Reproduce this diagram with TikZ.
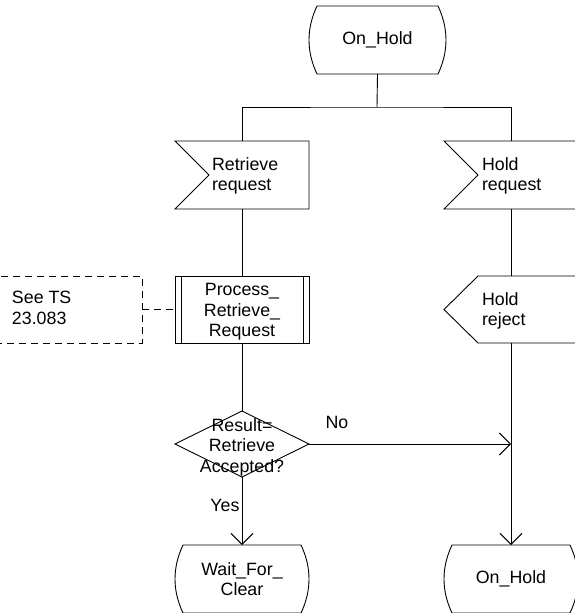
\documentclass[tikz,border=0pt]{standalone}
\usepackage{fontspec}
\setmainfont{Liberation Sans}
\usetikzlibrary{arrows.meta,shapes.geometric}
\tikzset{
  frame/.style={draw=none, inner sep=0pt, outer sep=0pt, rectangle},
  shp/.style={draw=black, line width=0.9pt},
  conn/.style={draw=black, line width=0.9pt},
  arr/.style={conn, -{Straight Barb[length=11pt,width=22pt,line width=0.9pt]}},
  dashconn/.style={conn, dash pattern=on 7pt off 5pt},
  txt/.style={inner sep=0pt, outer sep=0pt, font=\fontsize{17.8}{20.5}\selectfont},
}
\newcommand{\sdlstate}[1]{%
  \draw[shp] ([xshift=8pt]#1.north west) -- ([xshift=-8pt]#1.north east)
    .. controls ([xshift=2.67pt,yshift=-22.67pt]#1.north east) and ([xshift=2.67pt,yshift=22.67pt]#1.south east) .. ([xshift=-8pt]#1.south east)
    -- ([xshift=8pt]#1.south west)
    .. controls ([xshift=-2.67pt,yshift=22.67pt]#1.south west) and ([xshift=-2.67pt,yshift=-22.67pt]#1.north west) .. cycle;}
\begin{document}
\begin{tikzpicture}[x=1pt,y=-1pt]
\useasboundingbox (0,0) rectangle (575,613);
\clip (0,0) rectangle (575,613);

% nodes (frames)
\node[frame, txt, minimum width=137pt, minimum height=68pt] (s1) at (377.5,40) {On\_Hold};
\node[frame, minimum width=134pt, minimum height=68pt] (ri) at (242,175) {};
\node[frame, minimum width=134pt, minimum height=68pt] (hr) at (511,175) {};
\node[frame, minimum width=134pt, minimum height=67pt] (pr) at (242,309.5) {};
\node[frame, minimum width=200pt, minimum height=67pt] (see) at (42,309.5) {};
\node[frame, minimum width=134pt, minimum height=67pt] (hj) at (511,309.5) {};
\node[frame, minimum width=134pt, minimum height=66pt] (dec) at (242,444) {};
\node[frame, txt, align=center, minimum width=134pt, minimum height=68pt] (wfc) at (242,579) {Wait\_For\_\\Clear};
\node[frame, txt, minimum width=134pt, minimum height=68pt] (s2) at (511,579) {On\_Hold};

% shapes
\sdlstate{s1}
\sdlstate{wfc}
\sdlstate{s2}
\draw[shp] (ri.north west) -- (ri.north east) -- (ri.south east) -- (ri.south west) -- ([xshift=34pt]ri.west) -- cycle;
\draw[shp] (hr.north west) -- (hr.north east) -- (hr.south east) -- (hr.south west) -- ([xshift=34pt]hr.west) -- cycle;
\draw[shp] (pr.north west) rectangle (pr.south east);
\draw[shp] ([xshift=6pt]pr.north west) -- ([xshift=6pt]pr.south west);
\draw[shp] ([xshift=-6pt]pr.north east) -- ([xshift=-6pt]pr.south east);
\draw[shp, dash pattern=on 7pt off 5pt] (see.north west) rectangle (see.south east);
\draw[shp] (hj.west) -- ([xshift=34pt]hj.north west) -- (hj.north east) -- (hj.south east) -- ([xshift=34pt]hj.south west) -- cycle;
\draw[shp] (dec.west) -- (dec.north) -- (dec.east) -- (dec.south) -- cycle;

% texts
\node[txt, anchor=west, align=left] (riT) at (212,176) {Retrieve\\request};
\node[txt, anchor=west, align=left] (hrT) at (482,176) {Hold\\request};
\node[txt, align=center] (prT) at (242,312) {Process\_\\Retrieve\_\\Request};
\node[txt, anchor=west, align=left] (seeT) at (12,308) {See TS\\23.083};
\node[txt, anchor=west, align=left] (hjT) at (482,311) {Hold\\reject};
\node[txt, align=center] (decT) at (242,447) {Result=\\Retrieve\\Accepted?};
\node[txt] (noT) at (337,422) {No};
\node[txt] (yesT) at (225,505) {Yes};

% connectors
\coordinate (j) at (377,107);
\draw[conn] (s1.south) -- (j);
\draw[conn] (ri.north) |- (j) -| (hr.north);
\draw[conn] (ri.south) -- (pr.north);
\draw[conn] (pr.south) -- (dec.north);
\draw[dashconn] (see.east) -- (pr.west);
\draw[arr] (dec.south) -- (wfc.north);
\coordinate (m) at (dec.east -| hj.south);
\draw[arr] (dec.east) -- (m);
\draw[conn] (hr.south) -- (hj.north);
\draw[arr] (hj.south) -- (s2.north);
\end{tikzpicture}
\end{document}
